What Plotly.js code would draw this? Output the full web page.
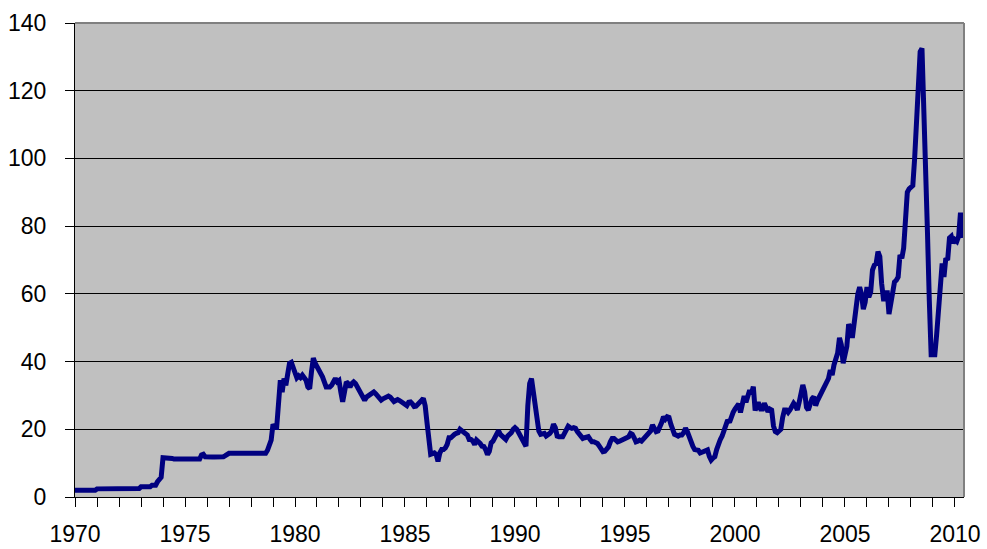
<!DOCTYPE html>
<html>
<head>
<meta charset="utf-8">
<script src="https://cdn.plot.ly/plotly-3.0.1.min.js"></script>
<style>html,body{margin:0;padding:0;background:#fff;}#chart{width:987px;height:549px;}</style>
</head>
<body>
<div id="chart"></div>
<script>
// Monthly prices, starting January 1970
const startYear = 1970;
const prices1970s = [
  2.0,2.0,2.0,2.0,2.0,2.0,2.0,2.0,2.0,2.0,2.0,2.0,
  2.4,2.4,2.4,2.4,2.4,2.4,2.4,2.4,2.4,2.4,2.4,2.4,
  2.5,2.5,2.5,2.5,2.5,2.5,2.5,2.5,2.5,2.5,2.5,2.5,
  3.0,3.0,3.0,3.0,3.0,3.0,3.5,3.5,3.5,4.5,5.5,5.8,
  11.6,11.6,11.5,11.5,11.4,11.4,11.2,11.2,11.2,11.2,11.2,11.2,
  11.2,11.2,11.2,11.2,11.2,11.2,11.2,11.2,11.2,12.4,12.6,11.9,
  11.8,11.8,11.8,11.8,11.8,11.8,11.8,11.8,11.8,11.9,12.2,12.6,
  12.9,12.9,12.9,12.9,12.9,12.9,12.9,12.9,12.9,12.9,12.9,12.9,
  12.9,12.9,12.9,12.9,12.9,12.9,12.9,12.9,12.9,13.8,15.0,16.8,
  21.5,20.5,20.5,26.0,34.5,31.0,35.0,33.0,36.0,39.5,39.8,38.0
];
const prices1980s = [
  36.5,35.2,35.8,35.3,36.0,35.5,34.5,32.5,32.0,37.0,41.0,39.5,
  38.5,37.5,37.0,35.5,34.0,32.5,32.5,32.5,33.0,34.5,35.0,34.0,
  34.4,31.0,28.1,31.0,34.0,33.5,32.5,33.5,34.0,33.5,32.5,31.5,
  31.0,30.0,28.6,29.5,29.8,30.5,30.6,31.0,30.5,29.8,29.2,28.6,
  29.0,29.3,29.8,29.8,29.5,29.0,28.2,28.5,28.8,28.5,28.0,27.5,
  27.2,27.0,28.0,28.1,27.5,26.7,26.8,27.3,27.6,28.5,29.1,27.0,
  22.0,15.5,12.6,12.8,13.0,12.5,10.5,13.0,14.0,14.0,14.5,15.5,
  17.5,17.5,18.3,18.5,18.8,19.0,20.0,19.5,19.0,18.5,18.3,17.0,
  17.0,16.5,15.5,16.8,16.5,15.8,15.0,14.9,14.0,12.5,13.5,16.0,
  16.5,17.5,18.5,19.6,18.5,18.0,17.3,17.0,18.0,18.3,19.0,20.0
];
const prices1990s = [
  20.5,20.0,19.0,18.0,17.0,15.5,15.0,27.0,33.5,35.0,31.5,27.0,
  24.0,19.5,18.5,18.8,18.8,18.0,18.3,18.8,19.5,21.5,20.5,18.0,
  17.8,17.8,17.8,18.8,19.8,20.9,20.5,20.3,20.5,20.3,19.3,18.5,
  17.8,17.3,17.5,17.8,17.8,17.0,16.3,16.3,16.0,15.8,15.0,13.8,
  13.4,13.5,14.0,14.8,16.3,17.3,17.3,16.8,16.3,16.5,16.8,16.8,
  17.3,17.8,17.8,18.8,18.5,17.5,16.3,16.5,16.8,16.5,17.0,17.8,
  18.0,18.5,19.5,21.3,20.0,19.3,19.5,20.5,22.0,23.7,23.0,23.7,
  23.5,21.5,20.0,18.5,18.3,18.0,18.3,18.3,19.0,20.3,19.3,17.5,
  16.3,15.0,14.0,13.9,13.8,13.0,13.2,13.4,13.5,13.9,12.0,10.9,
  11.5,11.9,14.0,16.3,17.0,18.0,19.5,21.0,22.7,22.0,24.0,25.0
];
const prices2000s = [
  26.0,27.0,27.5,25.0,27.5,29.8,28.0,30.0,31.5,30.5,32.6,25.5,
  27.5,27.5,26.0,26.0,27.7,26.5,25.2,26.0,25.7,21.0,19.3,19.0,
  19.3,20.0,23.5,25.7,25.7,25.0,25.7,26.5,27.7,27.0,25.7,28.0,
  30.5,33.1,31.0,26.5,25.7,28.0,29.0,29.6,27.0,28.5,29.5,30.5,
  31.5,32.5,34.0,35.0,37.5,36.0,39.0,41.5,42.5,47.0,45.0,39.5,
  42.0,44.5,51.0,50.0,47.0,52.0,54.5,60.0,62.0,60.0,55.5,57.5,
  62.0,59.0,60.5,67.0,68.5,69.0,72.5,71.0,63.0,58.5,58.5,61.0,
  54.0,57.5,60.0,63.5,64.0,65.0,71.5,70.5,73.5,80.0,90.0,91.0,
  91.5,92.0,100.0,112.0,122.0,131.5,132.5,117.0,103.0,78.0,58.0,42.0,
  42.0,42.0,48.0,55.0,62.0,69.0,65.0,70.5,70.0,76.5,77.0,75.0
];
const prices2010s = [76.0,75.5,77.0,84.0,76.5];

const yTickVals = [0,20,40,60,80,100,120,140];
const xTickVals = [1970,1975,1980,1985,1990,1995,2000,2005,2010];

const prices = [].concat(prices1970s, prices1980s, prices1990s, prices2000s, prices2010s);
const xs = prices.map((v, i) => startYear + i / 12);

const trace = {
  x: xs, y: prices, type: 'scatter', mode: 'lines',
  line: {color: '#000080', width: 5, shape: 'linear'},
  hoverinfo: 'skip'
};

const fontBase = {family: 'Liberation Sans, Arial, sans-serif', size: 23, color: '#000'};

const layout = {
  width: 987, height: 549,
  margin: {l: 75, r: 23, t: 23, b: 52, pad: 0},
  paper_bgcolor: '#ffffff',
  plot_bgcolor: '#c0c0c0',
  showlegend: false,
  font: fontBase,
  xaxis: {
    range: [1970, 2010.41],
    tickmode: 'array', tickvals: xTickVals, ticktext: xTickVals.map(String),
    ticks: 'outside', ticklen: 9, tickwidth: 1, tickcolor: '#000',
    minor: {dtick: 1, tick0: 1970, ticks: 'outside', ticklen: 9, tickwidth: 1, tickcolor: '#000', showgrid: false},
    showgrid: false, zeroline: false,
    showline: true, linecolor: '#000', linewidth: 1,
    tickfont: fontBase, ticklabelstandoff: 7,
    fixedrange: true
  },
  yaxis: {
    range: [0, 140],
    tickmode: 'array', tickvals: yTickVals, ticktext: yTickVals.map(String),
    ticks: 'outside', ticklen: 9, tickwidth: 1, tickcolor: '#000',
    showgrid: true, gridcolor: '#000', gridwidth: 1,
    zeroline: false,
    showline: true, linecolor: '#000', linewidth: 1,
    tickfont: fontBase, ticklabelstandoff: 14,
    fixedrange: true
  },
  shapes: [
    {type: 'line', xref: 'paper', yref: 'paper', x0: 0, x1: 1, y0: 1, y1: 1, line: {color: '#808080', width: 2}, layer: 'above'},
    {type: 'line', xref: 'paper', yref: 'paper', x0: 1, x1: 1, y0: 0, y1: 1, line: {color: '#808080', width: 2}, layer: 'above'}
  ]
};

Plotly.newPlot('chart', [trace], layout, {staticPlot: true, displayModeBar: false});
</script>
</body>
</html>
